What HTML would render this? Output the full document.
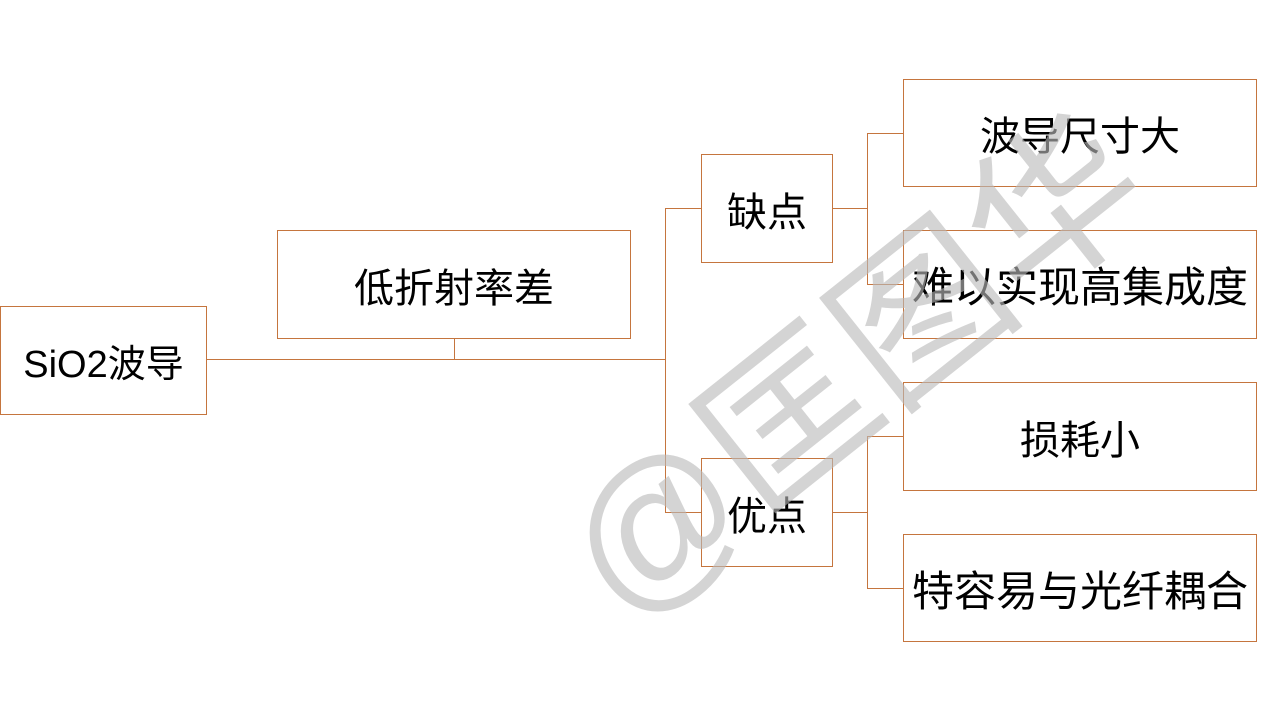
<!DOCTYPE html>
<html><head><meta charset="utf-8"><style>
html,body{margin:0;padding:0;background:#fff;}
#c{position:relative;width:1280px;height:720px;overflow:hidden;font-family:"Liberation Sans","Noto Sans CJK SC",sans-serif;}
.b{position:absolute;box-sizing:border-box;border:1px solid #c5753e;background:#fff;display:flex;align-items:center;justify-content:center;color:#000;font-size:40px;white-space:nowrap;}
.l{position:absolute;background:#c5753e;}
.wm{position:absolute;left:855px;top:368px;transform:translate(-50%,-50%) rotate(-38.5deg);font-size:170px;color:rgba(185,185,185,0.62);white-space:nowrap;font-family:"Liberation Sans","Noto Sans CJK SC",sans-serif;line-height:1;}
</style></head><body><div id="c">
<div class="l" style="left:206px;top:359px;width:460px;height:1px"></div>
<div class="l" style="left:454px;top:338px;width:1px;height:22px"></div>
<div class="l" style="left:665px;top:208px;width:1px;height:305px"></div>
<div class="l" style="left:665px;top:208px;width:36px;height:1px"></div>
<div class="l" style="left:665px;top:512px;width:36px;height:1px"></div>
<div class="l" style="left:832px;top:208px;width:36px;height:1px"></div>
<div class="l" style="left:867px;top:133px;width:1px;height:152px"></div>
<div class="l" style="left:867px;top:133px;width:36px;height:1px"></div>
<div class="l" style="left:867px;top:284px;width:36px;height:1px"></div>
<div class="l" style="left:832px;top:512px;width:36px;height:1px"></div>
<div class="l" style="left:867px;top:436px;width:1px;height:153px"></div>
<div class="l" style="left:867px;top:436px;width:36px;height:1px"></div>
<div class="l" style="left:867px;top:588px;width:36px;height:1px"></div>

<div class="b" style="left:0px;top:306px;width:207px;height:109px;font-size:38px">SiO2波导</div>
<div class="b" style="left:277px;top:230px;width:354px;height:109px">低折射率差</div>
<div class="b" style="left:701px;top:154px;width:132px;height:109px">缺点</div>
<div class="b" style="left:701px;top:458px;width:132px;height:109px">优点</div>
<div class="b" style="left:903px;top:79px;width:354px;height:108px">波导尺寸大</div>
<div class="b" style="left:903px;top:230px;width:354px;height:109px;font-size:42px">难以实现高集成度</div>
<div class="b" style="left:903px;top:382px;width:354px;height:109px">损耗小</div>
<div class="b" style="left:903px;top:534px;width:354px;height:108px;font-size:42px">特容易与光纤耦合</div>
<div class="wm">@匡图华</div>
</div></body></html>
